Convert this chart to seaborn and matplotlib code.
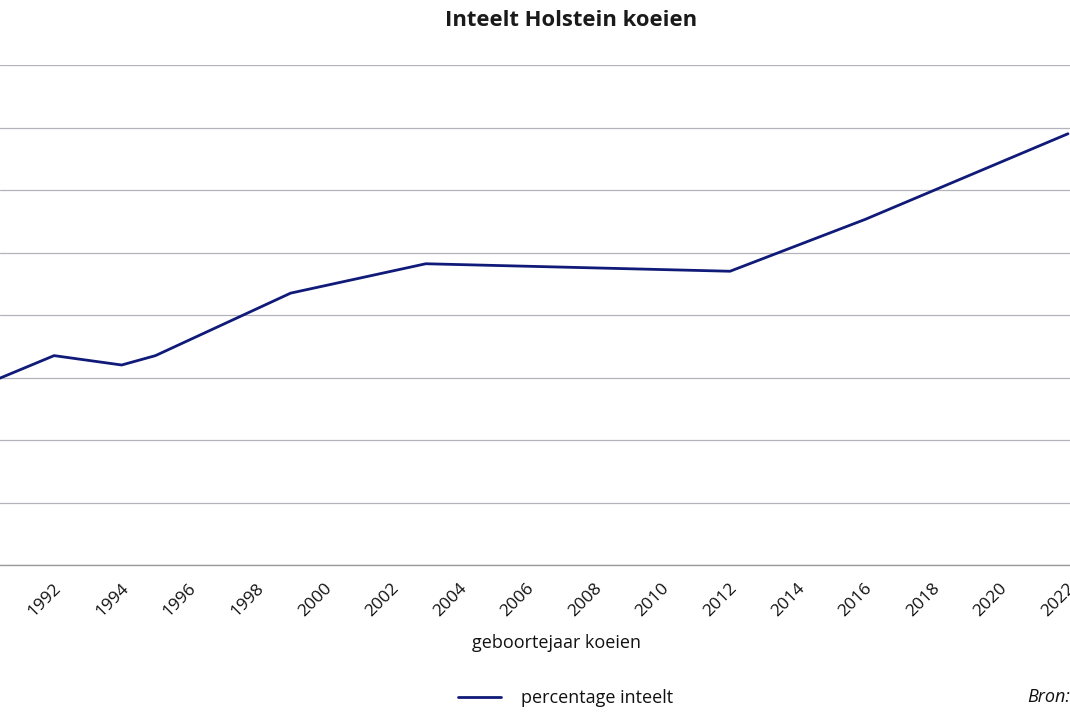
import numpy as np
import pandas as pd
import seaborn as sns
import matplotlib.pyplot as plt
from matplotlib.transforms import ScaledTranslation

# values (kinks of the line)
jaren = [1990, 1992, 1994, 1995, 1999, 2003, 2012, 2016, 2022]
inteelt = [2.9, 3.35, 3.2, 3.35, 4.35, 4.82, 4.7, 5.53, 6.9]
label_jaren = list(range(1992, 2023, 2))
y_grid = list(range(0, 9))

sns.set_style("white")
plt.rcParams['font.family'] = ['Open Sans', 'DejaVu Sans']

df = pd.DataFrame({'geboortejaar': jaren, 'percentage inteelt': inteelt})

fig = plt.figure(figsize=(10.7, 7.13), dpi=100)
# left part of the original chart is cut off, so the axes run to the figure edge
ax = fig.add_axes([0, 1 - 565 / 713, 1, 500 / 713])

sns.lineplot(data=df, x='geboortejaar', y='percentage inteelt', ax=ax,
             color='#101a78', lw=2.0, label='percentage inteelt')

ax.set_yticks(y_grid)
ax.set_yticklabels([])
ax.tick_params(axis='y', length=0)
ax.grid(axis='y', color='#b3b3bd', lw=0.9)
ax.grid(axis='x', visible=False)

for s in ['left', 'top', 'right']:
    ax.spines[s].set_visible(False)
ax.spines['bottom'].set_color('#9b9b9b')
ax.spines['bottom'].set_linewidth(1.0)

# category boundaries as small tick marks, labels every two years
ax.set_xticks(label_jaren)
ax.set_xticks(np.arange(1990.5, 2022.6, 1.0), minor=True)
ax.tick_params(axis='x', which='major', length=0, pad=11, labelsize=12.5, labelcolor='#111111')
ax.tick_params(axis='x', which='minor', length=4, width=0.8, color='#9b9b9b', direction='out')
ax.set_xticklabels([str(j) for j in label_jaren], rotation=45, ha='right',
                   rotation_mode='anchor')
for lbl in ax.get_xticklabels():
    lbl.set_transform(lbl.get_transform() + ScaledTranslation(-1 / 100, 0, fig.dpi_scale_trans))

# limits last, set_xticks would widen them
ax.set_xlim(1990.4, 2022.06)
ax.set_ylim(0, 8)

ax.set_xlabel('')
ax.set_ylabel('')

fig.text(571 / 1070, 1 - 21 / 713, 'Inteelt Holstein koeien', ha='center', va='center',
         fontsize=15.8, fontweight='bold', color='#1a1a1a')
fig.text(557 / 1070, 1 - 643 / 713, 'geboortejaar koeien', ha='center', va='center',
         fontsize=13, color='#111111')

ax.legend(loc='center left', bbox_to_anchor=(458 / 1070, 1 - 698 / 713),
          bbox_transform=fig.transFigure, frameon=False, fontsize=13,
          handlelength=2.4, handletextpad=1.1, borderpad=0, borderaxespad=0,
          labelcolor='#111111')

fig.text(1027 / 1070, 1 - 697 / 713, 'Bron:', ha='left', va='center',
         fontsize=13, fontstyle='italic', color='#111111')

fig.savefig('out.png', dpi=100)
